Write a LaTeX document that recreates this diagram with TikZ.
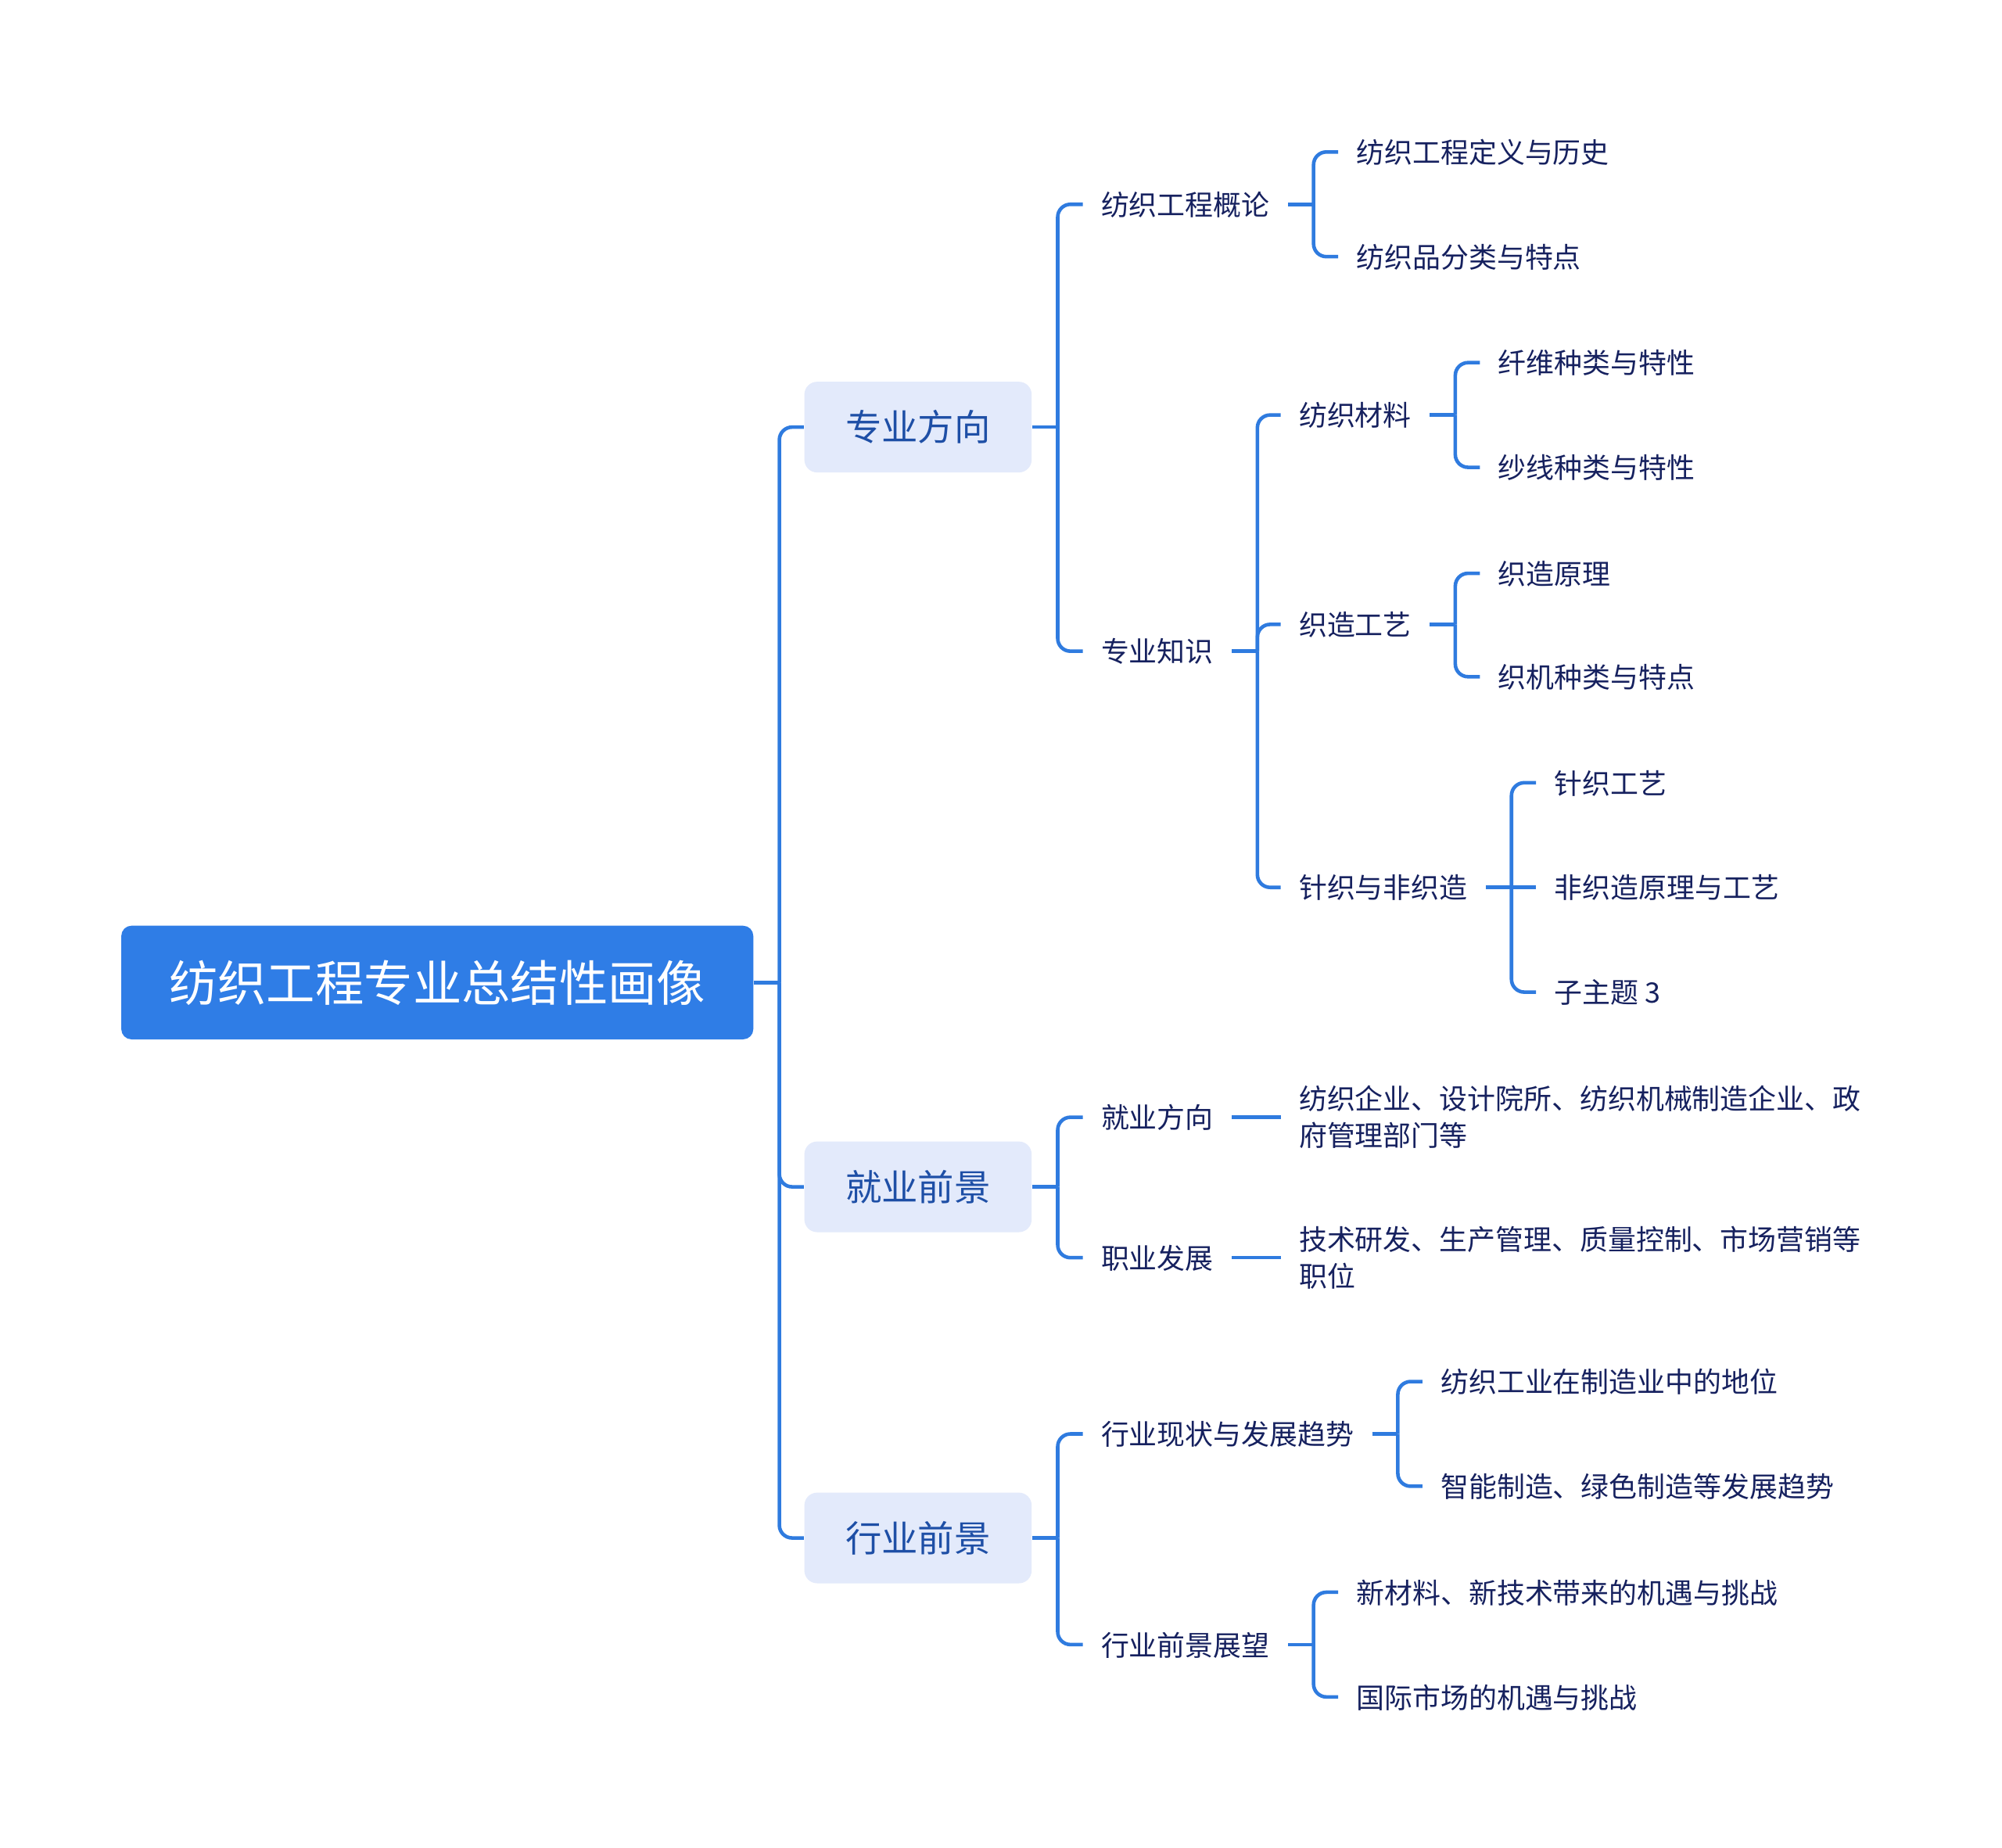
\documentclass[tikz,border=0pt]{standalone}
\usepackage{fontspec}
\setmainfont{Noto Sans CJK SC}
\definecolor{rootfill}{HTML}{2F7DE6}
\definecolor{lonefill}{HTML}{E3EAFB}
\definecolor{lonetext}{HTML}{1E4FA6}
\definecolor{leaftext}{HTML}{16215F}
\definecolor{linecol}{HTML}{2F7BDF}
\begin{document}
\begin{tikzpicture}[x=0.5pt,y=-0.5pt,
  rootbox/.style={fill=rootfill,text=white,rounded corners=4pt,minimum width=247.5pt,minimum height=44.5pt,inner sep=0pt,font=\fontsize{19.1}{23}\selectfont},
  onebox/.style={fill=lonefill,text=lonetext,rounded corners=5pt,minimum width=89pt,minimum height=35.5pt,inner sep=0pt,font=\fontsize{14.2}{17}\selectfont},
  leaf/.style={anchor=west,text=leaftext,inner xsep=7pt,inner ysep=0pt,text height=0.87em,text depth=0pt,font=\fontsize{11}{14.5}\selectfont},
  multi/.style={leaf,align=left,text height=,text depth=},
  stub/.style={draw=linecol,line width=1.4pt},
  conn/.style={draw=linecol,line width=1.4pt,rounded corners=5pt}]
\useasboundingbox (0,0) rectangle (1568,1447);
\fill[white] (0,0) rectangle (1568,1447);

\node[rootbox] (root) at (342.5,769.5) {纺织工程专业总结性画像};

\node[onebox] (A) at (719,334.5) {专业方向};
\node[onebox] (B) at (719,929.5) {就业前景};
\node[onebox] (C) at (719,1204.5) {行业前景};

\node[leaf] (A1) at (848,160) {纺织工程概论};
\node[leaf] (A2) at (848,510) {专业知识};
\node[leaf] (B1) at (848,875) {就业方向};
\node[leaf] (B2) at (848,985) {职业发展};
\node[leaf] (C1) at (848,1123) {行业现状与发展趋势};
\node[leaf] (C2) at (848,1288) {行业前景展望};

\node[leaf] (A1a) at (1048,119) {纺织工程定义与历史};
\node[leaf] (A1b) at (1048,201) {纺织品分类与特点};
\node[leaf] (A2a) at (1003,325) {纺织材料};
\node[leaf] (A2b) at (1003,489) {织造工艺};
\node[leaf] (A2c) at (1003,695) {针织与非织造};
\node[multi] (B1a) at (1003,875) {纺织企业、设计院所、纺织机械制造企业、政\\府管理部门等};
\node[multi] (B2a) at (1003,985) {技术研发、生产管理、质量控制、市场营销等\\职位};
\node[leaf] (C1a) at (1114,1082) {纺织工业在制造业中的地位};
\node[leaf] (C1b) at (1114,1164) {智能制造、绿色制造等发展趋势};
\node[leaf] (C2a) at (1048,1247) {新材料、新技术带来的机遇与挑战};
\node[leaf] (C2b) at (1048,1329) {国际市场的机遇与挑战};

\node[leaf] (A2a1) at (1159,284) {纤维种类与特性};
\node[leaf] (A2a2) at (1159,366) {纱线种类与特性};
\node[leaf] (A2b1) at (1159,449) {织造原理};
\node[leaf] (A2b2) at (1159,530) {织机种类与特点};
\node[leaf] (A2c1) at (1203,613) {针织工艺};
\node[leaf] (A2c2) at (1203,695) {非织造原理与工艺};
\node[leaf] (A2c3) at (1203,777) {子主题 3};

\foreach \p/\c in {root/A,root/B,root/C,A/A1,A/A2,B/B1,B/B2,C/C1,C/C2,
  A1/A1a,A1/A1b,A2/A2a,A2/A2b,A2/A2c,C1/C1a,C1/C1b,C2/C2a,C2/C2b,
  A2a/A2a1,A2a/A2a2,A2b/A2b1,A2b/A2b2,A2c/A2c1,A2c/A2c3}{
  \draw[stub] (\p.east) -- ++(10pt,0) coordinate (t);
  \draw[conn] (t) |- (\c.west);
}
\foreach \p/\c in {B1/B1a,B2/B2a,A2c/A2c2}
  \draw[stub] (\p.east) -- (\c.west);
\end{tikzpicture}
\end{document}
